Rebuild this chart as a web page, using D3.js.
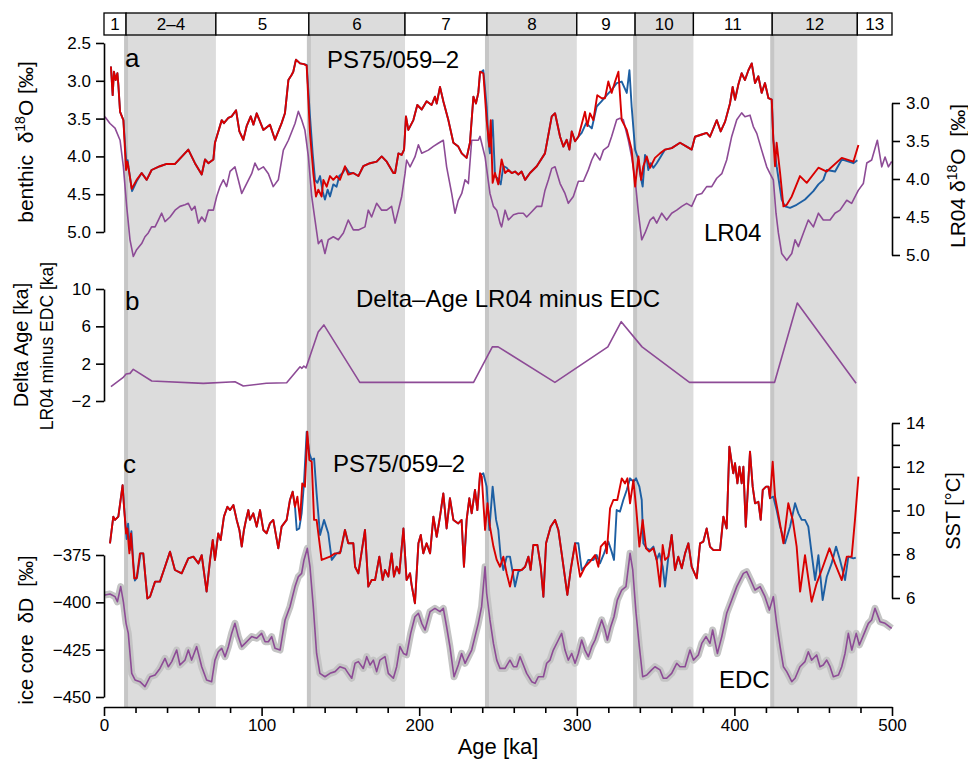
<!DOCTYPE html>
<html><head><meta charset="utf-8">
<script src="https://cdn.jsdelivr.net/npm/d3@7"></script>
<style>
body{margin:0;background:#fff}
svg{display:block}
text{font-family:"Liberation Sans",Arial,Helvetica,sans-serif;fill:#000}
</style>
</head><body>
<svg id="chart" width="968" height="763"></svg>
<script>
// ---------- DATA ----------
const misLabels = ["1","2–4","5","6","7","8","9","10","11","12","13"];
const misBounds = [0,14,71,130,191,243,300,337,374,424,478,500];
const misGlacial = [false,true,false,true,false,true,false,true,false,true,false];
const terminations = [14,130,243,337,424];

const xTicks = [0,20,40,60,80,100,120,140,160,180,200,220,240,260,280,300,320,340,360,380,400,420,440,460,480,500];
const benthicTicks = [2.5,3.0,3.5,4.0,4.5,5.0];
const lr04Ticks = [3.0,3.5,4.0,4.5,5.0];
const deltaTicks = [-2,2,6,10];
const dDTicks = [-450,-425,-400,-375];
const sstTicks = [6,7,8,9,10,11,12,13,14];

// panel a: PS75/059-2 benthic d18O (red age model)
const benthicRed = [[4.4,2.81],[5.5,3.19],[6.3,2.88],[7.4,2.99],[8.5,2.90],[9.1,3.05],[10.2,3.41],[12.3,3.52],[14.0,4.18],[14.8,4.07],[15.4,4.13],[17.6,4.43],[20.7,4.31],[23.9,4.22],[27.1,4.31],[30.2,4.18],[35.5,4.13],[39.8,4.10],[45.1,4.10],[53.5,3.91],[57.7,4.09],[62.0,4.24],[64.1,4.04],[66.2,4.09],[69.4,4.04],[70.4,3.82],[74.7,3.52],[76.1,3.56],[78.9,3.49],[81.0,3.47],[83.8,3.39],[85.9,3.67],[88.4,3.78],[90.5,3.60],[93.1,3.47],[94.8,3.58],[96.9,3.43],[101.1,3.65],[105.3,3.58],[108.5,3.78],[112.7,3.56],[114.8,3.43],[117.0,2.99],[119.1,2.92],[120.1,2.88],[121.8,2.72],[124.4,2.77],[126.9,2.78],[128.6,2.80],[130.7,3.69],[132.8,4.22],[134.5,4.53],[136.0,4.44],[138.1,4.53],[139.2,4.31],[141.3,4.40],[143.4,4.26],[145.5,4.31],[147.6,4.26],[149.7,4.31],[152.9,4.13],[155.0,4.24],[158.2,4.22],[161.4,4.26],[164.5,4.13],[168.8,4.09],[173.0,4.07],[176.2,4.00],[179.4,4.07],[183.6,4.22],[184.7,4.22],[186.8,3.96],[188.9,3.98],[190.4,3.91],[191.6,3.47],[193.1,3.65],[196.3,3.52],[198.8,3.32],[201.6,3.38],[204.7,3.27],[207.9,3.32],[210.0,3.21],[211.1,3.30],[213.2,3.08],[215.3,3.27],[218.5,3.52],[221.7,3.82],[224.8,3.87],[227.0,3.96],[230.1,4.02],[232.2,3.82],[234.4,3.21],[236.0,3.30],[237.5,3.16],[238.6,2.88],[240.7,2.90],[242.8,3.52],[244.5,3.87],[245.4,3.52],[246.6,4.35],[248.1,4.22],[250.2,4.37],[252.3,4.04],[254.5,4.22],[256.6,4.18],[258.7,4.22],[260.8,4.20],[262.9,4.24],[265.0,4.20],[267.2,4.31],[270.3,4.22],[274.6,4.13],[279.8,3.96],[284.1,3.47],[286.2,3.43],[289.4,3.74],[291.5,3.87],[293.6,3.78],[295.3,3.91],[296.8,3.67],[298.9,3.80],[301.0,3.74],[305.2,3.41],[306.7,3.60],[308.4,3.43],[310.5,3.52],[313.0,3.19],[315.8,3.23],[317.9,3.23],[320.0,3.01],[322.1,3.16],[324.3,3.01],[326.4,2.88],[328.5,3.52],[331.7,3.65],[334.8,3.91],[337.0,4.40],[339.1,4.00],[340.8,4.31],[342.2,4.13],[344.4,4.00],[346.5,4.15],[349.6,4.02],[352.8,3.96],[356.0,3.91],[360.2,3.89],[365.5,3.82],[369.7,3.87],[372.9,3.91],[375.0,3.74],[379.3,3.71],[382.4,3.69],[384.5,3.74],[388.8,3.52],[391.3,3.67],[394.1,3.54],[397.2,3.30],[398.9,3.08],[400.4,3.25],[402.5,3.05],[404.6,2.90],[406.7,2.99],[408.9,2.86],[411.0,2.77],[413.1,3.03],[415.2,2.94],[417.3,3.16],[419.4,3.03],[421.6,3.23],[423.7,3.25],[424.7,3.78],[425.8,4.13],[426.8,3.82],[429.0,4.22],[431.1,4.66],[433.2,4.64],[436.4,4.53],[441.6,4.26],[445.9,4.35],[453.3,4.15],[458.6,4.20],[468.1,4.02],[475.5,4.07],[478.7,3.85]];

// panel a: PS75/059-2 benthic d18O (blue age model)
const benthicBlue = [[4.4,2.81],[5.5,3.19],[6.3,2.88],[7.4,2.99],[8.5,2.90],[9.1,3.05],[10.2,3.41],[12.3,3.52],[14.2,4.10],[15.0,4.05],[15.6,4.15],[17.8,4.46],[20.7,4.33],[23.9,4.22],[27.1,4.31],[30.2,4.18],[35.5,4.13],[39.8,4.10],[45.1,4.10],[53.5,3.91],[57.7,4.09],[62.0,4.24],[64.1,4.04],[66.2,4.09],[69.4,4.04],[70.4,3.82],[74.7,3.52],[76.1,3.56],[78.9,3.49],[81.0,3.47],[83.8,3.39],[85.9,3.67],[88.4,3.78],[90.5,3.60],[93.1,3.47],[94.8,3.58],[96.9,3.43],[101.1,3.65],[105.3,3.58],[108.5,3.78],[112.7,3.56],[114.8,3.43],[117.0,2.99],[119.1,2.92],[120.1,2.88],[121.8,2.72],[124.4,2.77],[126.9,2.78],[128.6,2.79],[130.7,3.47],[132.4,3.96],[133.9,4.31],[135.4,4.35],[137.1,4.26],[138.7,4.46],[140.2,4.57],[141.9,4.44],[143.4,4.53],[145.5,4.37],[147.6,4.40],[149.3,4.26],[151.4,4.22],[153.5,4.15],[155.7,4.22],[158.2,4.22],[161.4,4.26],[164.5,4.13],[168.8,4.09],[173.0,4.07],[176.2,4.00],[179.4,4.07],[183.6,4.22],[184.7,4.22],[186.8,3.96],[188.9,3.98],[190.4,3.91],[191.6,3.47],[193.1,3.65],[196.3,3.52],[198.8,3.32],[201.6,3.38],[204.7,3.27],[207.9,3.32],[210.0,3.21],[211.1,3.30],[213.2,3.08],[215.3,3.27],[218.5,3.52],[221.7,3.82],[224.8,3.87],[227.0,3.96],[230.1,4.02],[232.2,3.82],[234.4,3.21],[236.0,3.30],[237.5,3.16],[238.6,2.90],[240.7,2.86],[242.8,3.34],[243.9,3.78],[244.9,3.96],[246.6,3.52],[248.1,4.26],[250.2,4.30],[251.7,4.37],[253.4,4.13],[255.5,4.15],[256.6,4.18],[258.7,4.22],[260.8,4.20],[262.9,4.24],[265.0,4.20],[267.2,4.31],[270.3,4.22],[274.6,4.13],[279.8,3.96],[284.1,3.47],[286.2,3.43],[289.4,3.74],[291.5,3.87],[293.6,3.78],[295.3,3.91],[296.8,3.67],[298.9,3.80],[301.0,3.74],[303.1,3.69],[305.9,3.56],[309.5,3.63],[312.6,3.34],[315.8,3.27],[319.0,3.19],[322.1,3.12],[325.3,3.03],[328.5,3.01],[331.7,3.16],[333.4,2.86],[334.8,3.34],[337.0,3.91],[339.1,4.04],[340.1,4.22],[341.8,4.40],[343.3,3.98],[344.4,4.04],[345.4,4.18],[346.9,4.09],[348.6,4.15],[350.7,4.09],[353.9,3.98],[356.0,3.91],[360.2,3.89],[365.5,3.82],[369.7,3.87],[372.9,3.91],[375.0,3.74],[379.3,3.71],[382.4,3.69],[384.5,3.74],[388.8,3.52],[391.3,3.67],[394.1,3.54],[397.2,3.30],[398.9,3.08],[400.4,3.25],[402.5,3.05],[404.6,2.90],[406.7,2.99],[408.9,2.86],[411.0,2.77],[413.1,3.03],[415.2,2.94],[417.3,3.16],[419.4,3.03],[421.6,3.23],[423.7,3.25],[424.7,3.78],[426.8,4.13],[430.0,4.57],[432.1,4.66],[435.3,4.68],[439.5,4.64],[444.8,4.57],[450.1,4.46],[453.3,4.37],[456.4,4.31],[458.6,4.18],[463.9,4.20],[468.1,4.04],[475.5,4.09],[478.0,4.05]];

// panel a: LR04 stack
const lr04 = [[0.6,3.18],[3.8,3.27],[7.0,3.33],[10.2,3.49],[12.3,3.84],[14.4,4.36],[16.5,4.80],[18.6,5.02],[20.7,4.93],[23.9,4.85],[26.0,4.76],[28.1,4.71],[30.2,4.63],[32.4,4.63],[34.5,4.54],[36.6,4.45],[38.7,4.56],[41.9,4.50],[45.1,4.41],[48.2,4.36],[51.4,4.34],[53.5,4.32],[55.6,4.41],[57.7,4.36],[59.9,4.58],[62.0,4.50],[64.1,4.56],[66.2,4.41],[69.4,4.41],[71.5,4.23],[73.6,4.10],[75.7,4.01],[77.8,4.10],[80.0,3.90],[83.1,3.84],[85.2,4.01],[87.4,4.19],[90.5,4.06],[93.7,3.93],[95.8,3.79],[98.0,3.88],[101.1,3.84],[104.3,3.93],[107.4,4.10],[110.6,4.01],[113.8,3.62],[117.0,3.49],[121.2,3.27],[123.3,3.11],[125.4,3.22],[127.5,3.36],[129.7,3.71],[131.8,4.23],[133.9,4.54],[136.0,4.85],[138.1,4.80],[140.2,4.98],[142.3,4.80],[145.5,4.76],[148.7,4.80],[151.9,4.71],[155.0,4.54],[158.2,4.67],[161.4,4.67],[165.6,4.63],[167.7,4.41],[169.8,4.50],[173.0,4.32],[176.2,4.41],[179.4,4.41],[182.5,4.36],[184.7,4.58],[186.8,4.41],[188.9,4.23],[191.0,3.93],[192.0,3.75],[194.2,3.84],[197.3,3.71],[199.5,3.55],[201.6,3.66],[205.8,3.62],[209.0,3.57],[212.1,3.53],[215.3,3.49],[217.4,3.84],[220.6,4.19],[222.7,4.45],[224.8,4.28],[227.0,4.19],[229.1,4.01],[231.2,4.06],[233.3,3.49],[235.4,3.49],[237.5,3.49],[238.6,3.44],[241.8,3.71],[244.9,4.19],[247.1,4.36],[249.2,4.41],[251.3,4.58],[252.3,4.63],[254.5,4.41],[256.6,4.54],[259.8,4.47],[262.9,4.45],[266.1,4.45],[268.2,4.50],[271.4,4.43],[274.6,4.36],[277.7,4.36],[279.8,4.15],[282.0,4.01],[284.1,3.86],[286.2,3.84],[289.4,4.06],[292.5,4.19],[294.6,4.32],[297.8,4.23],[299.9,4.10],[301.0,4.03],[304.2,4.03],[307.3,3.88],[309.5,3.75],[311.6,3.66],[314.7,3.75],[316.9,3.62],[320.0,3.57],[322.1,3.44],[325.3,3.22],[327.4,3.20],[329.5,3.22],[332.7,3.49],[334.8,3.71],[337.0,4.01],[339.1,4.45],[341.2,4.80],[343.3,4.71],[346.5,4.54],[348.6,4.50],[350.7,4.58],[353.9,4.45],[357.0,4.54],[360.2,4.45],[363.4,4.41],[366.6,4.36],[369.7,4.32],[372.9,4.36],[376.1,4.21],[379.3,4.19],[382.4,4.10],[385.6,4.10],[388.8,3.99],[392.0,3.93],[395.1,3.75],[398.3,3.44],[401.5,3.22],[404.6,3.13],[406.7,3.18],[409.9,3.16],[412.0,3.31],[414.2,3.40],[417.3,3.62],[420.5,3.84],[422.6,3.93],[424.7,4.01],[426.4,4.45],[427.9,4.71],[430.0,4.98],[433.2,5.07],[436.4,4.98],[438.5,4.80],[440.6,4.89],[443.8,4.71],[446.9,4.54],[450.1,4.63],[453.3,4.45],[456.4,4.54],[460.7,4.54],[463.8,4.45],[467.0,4.41],[471.3,4.28],[474.4,4.32],[478.6,4.15],[481.8,4.06],[484.0,3.79],[487.1,3.75],[490.7,3.49],[493.5,3.84],[495.6,3.71],[497.7,3.84],[499.8,3.77]];

// panel b: Delta-Age LR04 minus EDC [ka]
const deltaAge = [[4.4,-0.47],[12,0.5],[14,0.9],[16.5,0.96],[18.6,1.39],[30.3,0.14],[63,-0.11],[83.1,0.07],[88.4,-0.4],[103,-0.1],[115.9,-0.04],[124.4,1.67],[125.6,1.5],[126.8,1.75],[128.2,1.55],[135.9,5.4],[139.5,6.15],[162.3,0],[234.5,0],[246.4,3.8],[250.1,3.8],[286.1,0],[319.7,3.8],[328.2,6.5],[341.4,3.8],[371.5,0],[425.5,0],[439.9,8.5],[477.2,-0.1]];

// panel c: PS75/059-2 SST (red age model)
const sstRed = [[3.8,8.50],[5.9,9.72],[7.0,9.57],[9.1,9.72],[11.8,11.16],[12.7,10.17],[14.0,8.95],[14.8,9.18],[16.1,8.04],[17.1,8.95],[18.2,7.89],[19.2,6.90],[20.7,6.90],[22.8,8.04],[24.9,8.04],[27.5,5.98],[29.2,6.06],[32.4,6.75],[35.5,6.75],[38.7,7.43],[41.9,8.12],[45.0,7.28],[49.3,7.13],[53.5,7.81],[56.7,7.89],[59.9,7.58],[62.0,7.96],[65.1,6.29],[67.3,7.74],[69.0,8.65],[70.4,7.74],[72.5,8.95],[74.0,8.65],[76.1,9.72],[78.3,10.17],[80.0,10.02],[82.1,10.25],[84.2,9.57],[85.9,9.11],[87.4,8.35],[88.8,9.11],[90.1,9.57],[91.6,10.02],[92.6,9.57],[94.7,9.87],[96.9,9.26],[99.0,10.02],[101.1,9.11],[103.2,8.96],[105.3,9.41],[107.4,9.57],[110.6,8.27],[112.7,9.26],[115.9,9.57],[118.0,10.48],[119.7,10.86],[121.2,10.17],[122.7,10.63],[124.4,9.57],[125.8,11.24],[127.5,11.09],[129.0,13.60],[130.3,12.31],[131.8,12.23],[133.3,9.57],[134.9,9.57],[138.1,7.74],[143.4,7.89],[146.6,8.04],[149.7,8.04],[152.9,9.11],[155.0,8.50],[158.2,8.50],[159.3,7.43],[161.4,7.13],[165.6,9.11],[167.7,6.52],[169.8,6.82],[172.0,6.82],[174.7,7.89],[176.8,6.82],[178.3,7.28],[180.4,6.98],[182.5,8.04],[184.0,6.98],[185.7,7.43],[187.4,7.13],[190.0,9.18],[192.0,6.82],[194.2,7.13],[195.2,6.59],[197.3,5.76],[199.5,8.50],[201.0,8.88],[202.6,8.04],[204.7,8.50],[206.9,8.04],[209.0,9.72],[211.1,8.80],[213.2,9.72],[215.3,10.78],[217.4,9.18],[219.5,10.56],[221.7,9.57],[224.8,9.41],[226.9,9.57],[228.4,7.43],[230.1,9.57],[231.8,10.56],[233.3,9.87],[235.4,10.94],[236.9,10.02],[238.6,11.70],[239.7,11.55],[241.8,9.11],[243.3,10.33],[244.9,9.26],[247.1,8.35],[249.2,7.74],[251.3,7.43],[253.4,7.89],[255.5,7.13],[257.6,6.52],[259.8,7.28],[262.9,7.28],[265.0,7.28],[267.2,7.43],[269.3,7.89],[270.7,7.28],[272.4,8.42],[275.0,8.42],[277.1,7.43],[278.8,6.06],[280.5,8.50],[283.4,9.26],[286.2,9.57],[288.3,9.11],[290.4,8.04],[294.0,6.14],[296.1,7.28],[298.9,8.50],[300.4,7.74],[302.1,6.97],[305.2,7.43],[308.4,7.66],[311.6,7.96],[313.7,7.43],[315.2,8.35],[318.0,8.58],[319.0,8.04],[321.1,10.10],[323.2,10.48],[325.7,10.48],[328.5,11.47],[330.6,11.24],[332.1,11.47],[333.8,10.33],[335.9,11.39],[337.6,10.17],[339.7,8.35],[341.8,9.57],[343.9,8.27],[346.0,8.12],[348.6,8.27],[350.7,7.74],[352.8,6.52],[354.5,8.42],[356.0,7.74],[358.1,7.89],[360.2,8.88],[362.3,7.28],[364.4,7.89],[366.6,7.36],[368.7,8.04],[370.8,8.50],[372.9,7.43],[376.1,6.90],[378.2,8.50],[380.3,8.58],[382.4,9.18],[384.5,8.35],[386.7,8.19],[390.9,8.19],[393.0,9.72],[395.1,9.18],[396.8,12.92],[399.3,11.70],[400.4,12.16],[401.9,11.24],[403.2,12.00],[404.6,11.24],[405.7,12.00],[407.2,9.26],[409.9,12.69],[411.6,11.09],[413.1,10.33],[415.2,10.40],[416.7,9.57],[418.0,10.94],[420.1,11.09],[421.6,11.09],[422.6,10.56],[424.3,12.23],[425.8,10.63],[428.5,9.57],[431.1,8.50],[434.2,10.33],[437.0,9.57],[439.5,8.35],[441.7,6.29],[444.8,7.96],[449.0,5.83],[452.2,6.67],[455.4,7.28],[460.3,8.27],[463.8,7.58],[468.1,6.82],[471.3,7.89],[474.4,7.89],[476.5,9.57],[478.7,11.55]];

// panel c: PS75/059-2 SST (blue age model)
const sstBlue = [[3.8,8.50],[5.9,9.72],[7.0,9.57],[9.1,9.72],[11.8,11.16],[12.9,10.0],[14.4,8.70],[15.3,9.40],[16.5,8.20],[17.4,9.05],[18.6,7.60],[19.6,6.80],[21.0,6.95],[23.2,8.04],[24.9,8.04],[27.5,5.98],[29.2,6.06],[32.4,6.75],[35.5,6.75],[38.7,7.43],[41.9,8.12],[45.0,7.28],[49.3,7.13],[53.5,7.81],[56.7,7.89],[59.9,7.58],[62.0,7.96],[65.1,6.29],[67.3,7.74],[69.0,8.65],[70.4,7.74],[72.5,8.95],[74.0,8.65],[76.1,9.72],[78.3,10.17],[80.0,10.02],[82.1,10.25],[84.2,9.57],[85.9,9.11],[87.4,8.35],[88.8,9.11],[90.1,9.57],[91.6,10.02],[92.6,9.57],[94.7,9.87],[96.9,9.26],[99.0,10.02],[101.1,9.11],[103.2,8.96],[105.3,9.41],[107.4,9.57],[110.6,8.27],[112.7,9.26],[115.9,9.57],[118.0,10.48],[119.7,10.86],[121.2,10.17],[122.3,9.11],[123.9,9.18],[125.4,9.87],[126.9,11.24],[128.6,13.60],[130.3,12.61],[131.8,12.31],[133.3,12.38],[134.9,10.78],[137.1,8.88],[139.6,9.57],[142.3,8.96],[144.5,7.74],[147.6,8.04],[150.2,8.12],[152.9,9.11],[155.0,8.50],[158.2,8.50],[159.3,7.43],[161.4,7.13],[165.6,9.11],[167.7,6.52],[169.8,6.82],[172.0,6.82],[174.7,7.89],[176.8,6.82],[178.3,7.28],[180.4,6.98],[182.5,8.04],[184.0,6.98],[185.7,7.43],[187.4,7.13],[190.0,9.18],[192.0,6.82],[194.2,7.13],[195.2,6.59],[197.3,5.76],[199.5,8.50],[201.0,8.88],[202.6,8.04],[204.7,8.50],[206.9,8.04],[209.0,9.72],[211.1,8.80],[213.2,9.72],[215.3,10.78],[217.4,9.18],[219.5,10.56],[221.7,9.57],[224.8,9.41],[226.9,9.57],[228.4,7.43],[230.1,9.57],[231.8,10.56],[233.3,9.87],[235.4,10.94],[236.9,10.02],[238.6,11.62],[240.7,11.70],[242.8,11.09],[244.5,9.11],[246.6,11.09],[248.8,9.57],[250.2,9.11],[251.7,7.89],[253.4,7.28],[255.5,7.89],[257.6,7.89],[259.8,6.97],[260.8,6.52],[262.9,7.20],[265.0,7.28],[267.2,7.43],[269.3,7.89],[270.7,7.28],[272.4,8.42],[275.0,8.42],[277.1,7.43],[278.8,6.06],[280.5,8.50],[283.4,9.26],[286.2,9.57],[288.3,9.11],[290.4,8.04],[294.0,6.14],[296.1,7.28],[298.9,8.50],[301.0,8.50],[303.1,7.28],[305.2,7.43],[307.3,7.74],[310.5,7.74],[312.6,7.96],[314.7,7.58],[317.3,8.04],[320.0,8.58],[322.1,8.12],[323.6,7.74],[325.3,10.02],[327.4,9.95],[329.5,10.48],[331.7,10.94],[333.8,11.47],[335.9,11.32],[337.6,11.47],[339.7,11.09],[341.2,10.48],[342.2,8.50],[344.4,8.27],[346.5,8.19],[348.6,8.35],[350.7,7.74],[352.4,8.04],[354.5,7.43],[356.0,6.52],[358.1,7.89],[360.2,8.88],[362.3,7.28],[364.4,7.89],[366.6,7.36],[368.7,8.04],[370.8,8.50],[372.9,7.43],[376.1,6.90],[378.2,8.50],[380.3,8.58],[382.4,9.18],[384.5,8.35],[386.7,8.19],[390.9,8.19],[393.0,9.72],[395.1,9.18],[396.8,12.92],[399.3,11.70],[400.4,12.16],[401.9,11.24],[403.2,12.00],[404.6,11.24],[405.7,12.00],[407.2,9.26],[409.9,12.69],[411.6,11.09],[413.1,10.33],[415.2,10.40],[416.7,9.57],[418.0,10.94],[420.1,11.09],[421.6,11.09],[422.6,10.56],[424.7,10.63],[426.8,10.02],[429.0,9.26],[432.1,8.50],[435.3,9.26],[438.5,10.33],[440.6,9.87],[442.7,9.57],[444.8,9.57],[446.9,9.26],[449.0,8.04],[451.2,6.82],[453.3,7.96],[456.0,5.91],[458.6,6.97],[461.7,7.58],[464.5,8.35],[467.0,7.74],[470.2,6.82],[472.3,7.89],[475.5,7.81],[477.0,7.85]];

// panel c: EDC ice core dD (smoothed)
const edcDD = [[0.6,-396.1],[3.8,-395.6],[7.0,-397.0],[8.5,-399.7],[10.6,-391.7],[12.3,-399.7],[14.0,-411.1],[15.4,-416.4],[17.6,-437.5],[19.7,-441.0],[22.8,-441.9],[26.0,-444.5],[29.2,-439.3],[32.4,-438.4],[35.5,-434.9],[38.7,-429.6],[40.8,-434.0],[43.0,-431.3],[46.1,-425.2],[48.2,-433.1],[51.4,-430.5],[53.5,-425.2],[55.6,-430.5],[58.8,-423.4],[62.0,-434.0],[65.1,-441.0],[68.3,-441.9],[70.4,-430.5],[72.5,-426.1],[74.7,-424.3],[76.8,-428.7],[78.9,-423.4],[81.0,-416.4],[83.1,-411.1],[85.2,-418.1],[87.4,-423.4],[89.5,-421.7],[91.6,-419.9],[93.7,-418.1],[96.9,-419.0],[100.0,-416.4],[102.2,-420.8],[104.3,-420.8],[106.4,-418.1],[108.5,-424.3],[111.7,-425.2],[114.9,-409.3],[118.0,-402.3],[121.2,-391.7],[123.3,-386.5],[125.4,-384.7],[126.9,-377.6],[129.0,-371.5],[130.7,-381.2],[132.8,-402.3],[134.9,-427.0],[137.0,-437.5],[140.2,-439.3],[143.4,-437.5],[146.6,-436.6],[149.7,-434.0],[152.9,-434.9],[155.0,-437.5],[157.2,-440.1],[159.3,-432.2],[161.4,-431.3],[164.5,-434.9],[166.7,-428.7],[168.8,-433.1],[170.9,-430.5],[173.0,-436.6],[175.1,-430.5],[178.3,-428.7],[180.4,-437.5],[183.6,-440.1],[185.7,-434.0],[187.8,-423.4],[190.0,-427.0],[192.0,-427.8],[194.6,-416.4],[197.3,-407.6],[199.5,-405.8],[201.6,-411.1],[203.7,-414.6],[206.9,-404.9],[210.0,-403.2],[213.2,-404.9],[215.3,-403.2],[217.4,-412.9],[219.5,-423.4],[222.1,-439.3],[224.8,-433.1],[226.9,-427.0],[229.1,-432.2],[231.2,-428.7],[233.3,-425.2],[235.4,-418.1],[237.5,-411.1],[239.6,-402.3],[240.7,-391.7],[241.8,-381.2],[242.8,-395.2],[244.9,-409.3],[247.1,-421.7],[249.2,-430.5],[251.3,-434.9],[254.5,-434.9],[257.6,-430.5],[259.8,-434.0],[261.9,-434.0],[264.0,-428.7],[266.1,-433.1],[268.2,-437.5],[271.4,-441.9],[273.5,-442.8],[275.6,-439.3],[278.8,-439.3],[280.9,-432.2],[283.0,-430.5],[285.1,-425.2],[288.3,-419.9],[290.4,-416.4],[292.5,-425.2],[294.6,-430.5],[296.8,-427.0],[298.9,-432.2],[301.0,-427.0],[303.1,-419.9],[305.2,-425.2],[307.3,-428.7],[309.5,-423.4],[311.6,-419.9],[313.7,-414.6],[315.8,-409.3],[317.9,-414.6],[319.4,-419.9],[321.5,-412.9],[323.6,-407.6],[325.7,-398.8],[328.5,-393.5],[331.2,-391.7],[333.8,-374.1],[335.5,-382.9],[337.6,-405.8],[339.7,-423.4],[341.8,-439.3],[344.4,-438.4],[347.5,-435.7],[349.6,-434.0],[352.8,-435.7],[354.9,-440.1],[357.0,-440.1],[360.2,-437.5],[363.4,-432.2],[365.5,-434.0],[368.7,-434.0],[371.8,-425.2],[374.0,-430.5],[377.1,-427.8],[379.3,-421.7],[382.0,-418.1],[384.5,-421.7],[386.2,-414.6],[389.2,-427.0],[392.0,-418.1],[395.1,-405.8],[398.3,-398.8],[401.5,-391.7],[405.7,-384.7],[407.8,-383.8],[410.3,-388.2],[413.1,-393.5],[416.3,-391.7],[419.4,-397.0],[422.2,-404.1],[424.7,-397.0],[426.8,-411.1],[429.0,-423.4],[431.1,-434.0],[433.2,-436.6],[436.4,-441.9],[438.5,-440.1],[441.6,-434.0],[444.8,-431.3],[446.9,-426.1],[449.0,-430.5],[452.2,-427.8],[454.3,-434.0],[456.4,-433.1],[458.6,-430.5],[460.7,-434.0],[462.8,-439.3],[466.0,-438.4],[468.1,-434.0],[470.2,-427.0],[472.3,-416.4],[474.5,-425.2],[477.3,-416.4],[479.3,-422.5],[481.9,-417.3],[485.0,-411.1],[487.1,-409.3],[489.2,-403.2],[492.4,-410.2],[495.6,-411.1],[499.8,-413.7]];

// ---------- CHART ----------
const RED = "#d90000", BLUE = "#1d5fa3", PURPLE = "#8d4b96", SHADE = "#dcdcdc", TERM = "#c6c6c6", RAW = "#c4c4c4";
const svg = d3.select("#chart");
const x = d3.scaleLinear().domain([0,500]).range([104,892]);
const yA = d3.scaleLinear().domain([2.5,5.0]).range([43,232]);
const yL = d3.scaleLinear().domain([3.0,5.0]).range([103,255]);
const yB = d3.scaleLinear().domain([-2,10]).range([401,289]);
const yD = d3.scaleLinear().domain([-450,-375]).range([697,555]);
const yS = d3.scaleLinear().domain([6,14]).range([598,423]);
const TOP = 35, BOT = 707;

// shading of glacial stages
const shade = svg.append("g");
misBounds.slice(0,-1).forEach((b,i) => {
  if (misGlacial[i]) shade.append("rect").attr("x", x(b)).attr("y", TOP).attr("width", x(misBounds[i+1]) - x(b)).attr("height", BOT - TOP).attr("fill", SHADE);
});
terminations.forEach(t => shade.append("rect").attr("x", x(t) - 2).attr("y", TOP).attr("width", 4).attr("height", BOT - TOP).attr("fill", TERM));

// MIS box
const box = svg.append("g");
misBounds.slice(0,-1).forEach((b,i) => {
  const x0 = x(b), x1 = x(misBounds[i+1]);
  box.append("rect").attr("x", x0).attr("y", 13).attr("width", x1 - x0).attr("height", 22)
     .attr("fill", misGlacial[i] ? SHADE : "#fff").attr("stroke", "#000").attr("stroke-width", 1.3);
  box.append("text").attr("x", (x0 + x1) / 2).attr("y", 30).attr("text-anchor", "middle").attr("font-size", 17).text(misLabels[i]);
});

// lines
function drawLine(data, ys, color, w) {
  svg.append("path").datum(data).attr("fill", "none").attr("stroke", color).attr("stroke-width", w)
    .attr("stroke-linejoin", "round").attr("d", d3.line().x(d => x(d[0])).y(d => ys(d[1])));
}
drawLine(lr04, yL, PURPLE, 1.6);
drawLine(benthicBlue, yA, BLUE, 1.9);
drawLine(benthicRed, yA, RED, 1.9);
drawLine(deltaAge, yB, PURPLE, 1.6);
drawLine(edcDD, yD, RAW, 7);
drawLine(edcDD, yD, PURPLE, 1.6);
drawLine(sstBlue, yS, BLUE, 1.9);
drawLine(sstRed, yS, RED, 1.9);

// axes
function styleAxis(g, fs) {
  g.attr("font-size", fs).attr("font-family", '"Liberation Sans",Arial,Helvetica,sans-serif');
  g.select(".domain").attr("stroke-width", 1.6);
  g.selectAll(".tick line").attr("stroke-width", 1.6);
  return g;
}
styleAxis(svg.append("g").attr("transform", "translate(104,0)")
  .call(d3.axisLeft(yA).tickValues(benthicTicks).tickFormat(d3.format(".1f")).tickSize(8).tickSizeOuter(0).tickPadding(5)), 17);
styleAxis(svg.append("g").attr("transform", "translate(892,0)")
  .call(d3.axisRight(yL).tickValues(lr04Ticks).tickFormat(d3.format(".1f")).tickSize(8).tickSizeOuter(0).tickPadding(6)), 17);
styleAxis(svg.append("g").attr("transform", "translate(104,0)")
  .call(d3.axisLeft(yB).tickValues(deltaTicks).tickFormat(d3.format("d")).tickSize(8).tickSizeOuter(0).tickPadding(5)), 17);
styleAxis(svg.append("g").attr("transform", "translate(104,0)")
  .call(d3.axisLeft(yD).tickValues(dDTicks).tickFormat(d3.format("d")).tickSize(8).tickSizeOuter(0).tickPadding(5)), 17);
styleAxis(svg.append("g").attr("transform", "translate(892,0)")
  .call(d3.axisRight(yS).tickValues(sstTicks).tickFormat(d => d % 2 === 0 ? d : "").tickSize(8).tickSizeOuter(0).tickPadding(6)), 17);
const xa = styleAxis(svg.append("g").attr("transform", `translate(0,${BOT})`)
  .call(d3.axisBottom(x).tickValues(xTicks).tickFormat(d => d % 100 === 0 ? d : "").tickSize(9).tickSizeOuter(0).tickPadding(3)), 17);
xa.selectAll(".tick").filter(d => d % 100 !== 0).select("line").attr("y2", 6);

// axis titles
function vtitle(px, py, parts, fs) {
  const t = svg.append("text").attr("transform", `translate(${px},${py}) rotate(-90)`)
    .attr("text-anchor", "middle").attr("font-size", fs).style("white-space", "pre");
  parts.forEach(p => {
    const s = t.append("tspan").text(p[0]);
    if (p[1]) s.attr("dy", p[1]);
    if (p[2]) s.attr("font-size", p[2]);
  });
}
vtitle(33, 142, [["benthic  δ"],["18",-8,14],["O [‰]",8]], 21);
vtitle(965, 176, [["LR04 δ"],["18",-8,14],["O  [‰]",8]], 21);
vtitle(28, 345, [["Delta Age [ka]"]], 20);
vtitle(53, 346, [["LR04 minus EDC [ka]"]], 17.5);
vtitle(33, 630, [["ice core  δD  [‰]"]], 20);
vtitle(960, 511, [["SST [°C]"]], 20);

svg.append("text").attr("x", (x(0) + x(500)) / 2).attr("y", 754).attr("text-anchor", "middle").attr("font-size", 22).text("Age [ka]");

// panel labels
const labels = [["a",125,67,26],["b",125,310,26],["c",123,473,26],
  ["PS75/059–2",327,68,24],["LR04",704,241,24],["Delta–Age LR04 minus EDC",356,307,24],
  ["PS75/059–2",333,472,24],["EDC",719,688,24]];
labels.forEach(l => svg.append("text").attr("x", l[1]).attr("y", l[2]).attr("font-size", l[3]).style("white-space","pre").text(l[0]));
</script>
</body></html>
